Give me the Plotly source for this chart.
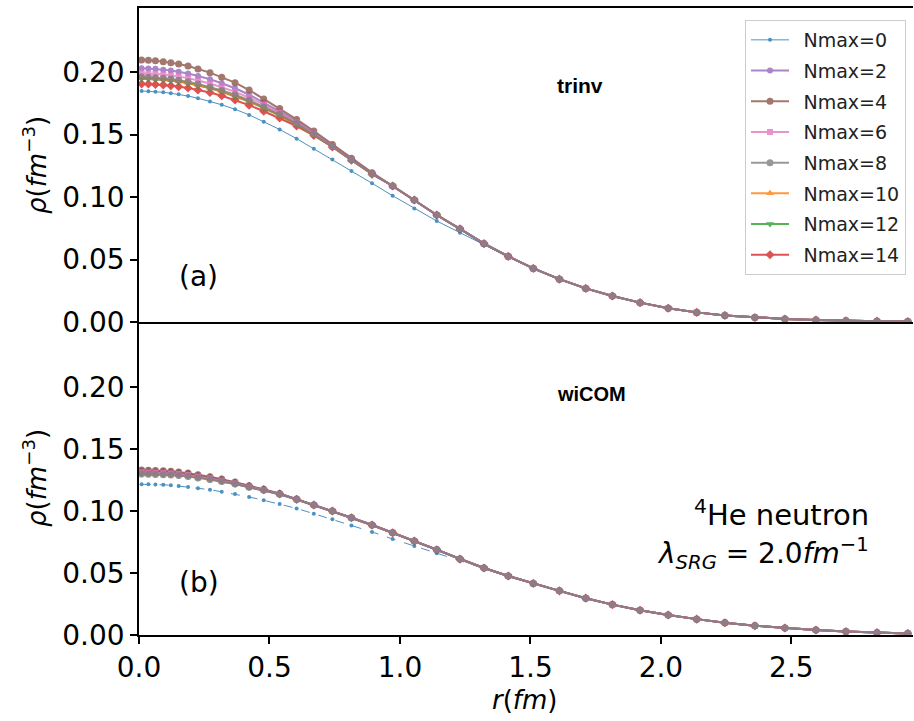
import plotly.graph_objects as go

# ---------------- data ----------------
r = [0.010, 0.036, 0.063, 0.093, 0.122, 0.152, 0.188, 0.226, 0.272, 0.317,
     0.368, 0.422, 0.478, 0.539, 0.604, 0.670, 0.741, 0.814, 0.893, 0.972,
     1.055, 1.141, 1.230, 1.322, 1.415, 1.511, 1.611, 1.712, 1.814, 1.920,
     2.028, 2.137, 2.245, 2.360, 2.475, 2.594, 2.709, 2.828, 2.946]

labels = ["Nmax=0", "Nmax=2", "Nmax=4", "Nmax=6", "Nmax=8", "Nmax=10", "Nmax=12", "Nmax=14"]

# (a) trinv
top_nmax0 = [0.1848, 0.1846, 0.1843, 0.1838, 0.1830, 0.1821, 0.1808, 0.1790, 0.1765, 0.1738,
             0.1702, 0.1657, 0.1602, 0.1540, 0.1467, 0.1387, 0.1301, 0.1208, 0.1110, 0.1010,
             0.0909, 0.0808, 0.0715, 0.0618, 0.0520, 0.0427, 0.0343, 0.0268, 0.0207, 0.0155,
             0.0111, 0.0078, 0.0054, 0.0037, 0.0025, 0.0016, 0.0010, 0.0007, 0.0004]
top_tail = [0.1088, 0.0976, 0.0856, 0.0745, 0.0627, 0.0525, 0.0429, 0.0343, 0.0269, 0.0208,
            0.0155, 0.0110, 0.0077, 0.0053, 0.0036, 0.0024, 0.0016, 0.0010, 0.0007, 0.0004]
top_head_nmax2 = [0.2030, 0.2028, 0.2025, 0.2019, 0.2012, 0.2002, 0.1988, 0.1968, 0.1942, 0.1910,
                  0.1870, 0.1818, 0.1757, 0.1686, 0.1605, 0.1515, 0.1412, 0.1303, 0.1190]
top_head_nmax4 = [0.2096, 0.2094, 0.2090, 0.2083, 0.2075, 0.2064, 0.2048, 0.2024, 0.1995, 0.1957,
                  0.1915, 0.1856, 0.1784, 0.1709, 0.1621, 0.1528, 0.1421, 0.1310, 0.1195]
top_head_nmax6 = [0.1990, 0.1988, 0.1985, 0.1980, 0.1973, 0.1964, 0.1951, 0.1932, 0.1908, 0.1878,
                  0.1841, 0.1795, 0.1740, 0.1676, 0.1598, 0.1508, 0.1407, 0.1300, 0.1188]
top_head_nmax8 = [0.1960, 0.1958, 0.1955, 0.1950, 0.1944, 0.1935, 0.1922, 0.1904, 0.1881, 0.1853,
                  0.1818, 0.1774, 0.1720, 0.1660, 0.1588, 0.1502, 0.1404, 0.1298, 0.1187]
top_head_nmax10 = [0.1952, 0.1950, 0.1947, 0.1942, 0.1936, 0.1927, 0.1914, 0.1896, 0.1874, 0.1846,
                   0.1811, 0.1768, 0.1715, 0.1655, 0.1584, 0.1500, 0.1403, 0.1297, 0.1186]
top_head_nmax12 = [0.1947, 0.1945, 0.1942, 0.1937, 0.1931, 0.1922, 0.1909, 0.1891, 0.1869, 0.1841,
                   0.1806, 0.1764, 0.1711, 0.1652, 0.1581, 0.1498, 0.1402, 0.1296, 0.1185]
top_head_nmax14 = [0.1905, 0.1904, 0.1901, 0.1897, 0.1891, 0.1883, 0.1872, 0.1856, 0.1836, 0.1810,
                   0.1776, 0.1735, 0.1686, 0.1632, 0.1568, 0.1492, 0.1400, 0.1295, 0.1183]

# (b) wiCOM
bot_nmax0 = [0.1215, 0.1215, 0.1213, 0.1211, 0.1208, 0.1202, 0.1194, 0.1183, 0.1172, 0.1156,
             0.1137, 0.1113, 0.1086, 0.1056, 0.1021, 0.0978, 0.0933, 0.0884, 0.0831, 0.0774,
             0.0718, 0.0660, 0.0600, 0.0535, 0.0474, 0.0416, 0.0356, 0.0297, 0.0245, 0.0200,
             0.0161, 0.0128, 0.0099, 0.0075, 0.0056, 0.0040, 0.0028, 0.0019, 0.0013]
bot_tail = [0.1048, 0.1000, 0.0946, 0.0887, 0.0825, 0.0758, 0.0688, 0.0612, 0.0540, 0.0476,
            0.0416, 0.0356, 0.0297, 0.0245, 0.0200, 0.0161, 0.0128, 0.0099, 0.0075, 0.0056,
            0.0040, 0.0028, 0.0019, 0.0013]
bot_head_nmax2 = [0.1322, 0.1321, 0.1319, 0.1316, 0.1313, 0.1307, 0.1299, 0.1285, 0.1271, 0.1252,
                  0.1229, 0.1201, 0.1174, 0.1139, 0.1095]
bot_head_nmax4 = [0.1330, 0.1329, 0.1327, 0.1324, 0.1320, 0.1315, 0.1306, 0.1292, 0.1277, 0.1257,
                  0.1233, 0.1204, 0.1176, 0.1141, 0.1096]
bot_head_nmax6 = [0.1312, 0.1311, 0.1309, 0.1306, 0.1303, 0.1298, 0.1290, 0.1277, 0.1263, 0.1245,
                  0.1223, 0.1196, 0.1170, 0.1137, 0.1094]
bot_head_nmax8 = [0.1298, 0.1297, 0.1295, 0.1293, 0.1290, 0.1286, 0.1279, 0.1267, 0.1254, 0.1238,
                  0.1217, 0.1191, 0.1167, 0.1135, 0.1093]
bot_head_nmax10 = [0.1302, 0.1301, 0.1299, 0.1297, 0.1294, 0.1290, 0.1283, 0.1271, 0.1257, 0.1240,
                   0.1219, 0.1193, 0.1168, 0.1136, 0.1094]
bot_head_nmax12 = [0.1300, 0.1299, 0.1297, 0.1295, 0.1292, 0.1288, 0.1281, 0.1269, 0.1256, 0.1239,
                   0.1218, 0.1192, 0.1167, 0.1135, 0.1093]
bot_head_nmax14 = [0.1318, 0.1317, 0.1315, 0.1312, 0.1309, 0.1304, 0.1296, 0.1282, 0.1268, 0.1249,
                   0.1226, 0.1199, 0.1172, 0.1138, 0.1094]

top_series = [top_nmax0,
              top_head_nmax2 + top_tail, top_head_nmax4 + top_tail, top_head_nmax6 + top_tail,
              top_head_nmax8 + top_tail, top_head_nmax10 + top_tail, top_head_nmax12 + top_tail,
              top_head_nmax14 + top_tail]
bot_series = [bot_nmax0,
              bot_head_nmax2 + bot_tail, bot_head_nmax4 + bot_tail, bot_head_nmax6 + bot_tail,
              bot_head_nmax8 + bot_tail, bot_head_nmax10 + bot_tail, bot_head_nmax12 + bot_tail,
              bot_head_nmax14 + bot_tail]

# ---------------- style ----------------
colors = ["#1f77b4", "#9467bd", "#8c564b", "#e377c2", "#7f7f7f", "#ff7f0e", "#2ca02c", "#d62728"]
symbols = ["circle", "circle", "circle", "square", "circle", "triangle-up", "triangle-down", "diamond"]
msizes = [4, 6, 7, 6, 7, 7, 7, 7]
lwidths = [1, 2, 2, 2, 2, 2, 2, 2]
draw_order = [7, 6, 5, 0, 1, 2, 3, 4]

W, H = 914, 721
ML, MR, MT, MB = 139, 1, 8, 86
PW, PH = W - ML - MR, H - MT - MB
def px(x):
    return (x - ML) / PW
def py(y):
    return (H - MB - y) / PH

split = (H - MB - 322) / PH
FONT = "DejaVu Sans"

fig = go.Figure()
for i in draw_order:
    fig.add_trace(go.Scatter(
        x=r, y=top_series[i], xaxis="x2", yaxis="y2", mode="lines+markers",
        name="\u2002" + labels[i], legendgroup=labels[i], legendrank=i + 1, opacity=0.8,
        line=dict(color=colors[i], width=lwidths[i]),
        marker=dict(color=colors[i], symbol=symbols[i], size=msizes[i], line=dict(width=0))))
for i in draw_order:
    fig.add_trace(go.Scatter(
        x=r, y=bot_series[i], xaxis="x", yaxis="y", mode="lines+markers",
        name=labels[i], legendgroup=labels[i], showlegend=False, opacity=0.8,
        line=dict(color=colors[i], width=lwidths[i], dash="dash" if i == 0 else "solid"),
        marker=dict(color=colors[i], symbol=symbols[i], size=msizes[i], line=dict(width=0))))

axcommon = dict(showline=True, linecolor="black", linewidth=1.5, showgrid=False, zeroline=False,
                ticklen=7, tickwidth=1.5, tickcolor="black",
                tickfont=dict(family=FONT, size=28, color="black"))
xt = [0, 0.5, 1.0, 1.5, 2.0, 2.5]
yt = [0, 0.05, 0.10, 0.15, 0.20]
ytl = ["0.00", "0.05", "0.10", "0.15", "0.20"]

fig.update_layout(
    width=W, height=H, margin=dict(l=ML, r=MR, t=MT, b=MB),
    paper_bgcolor="white", plot_bgcolor="white",
    font=dict(family=FONT, color="black"),
    xaxis=dict(domain=[0, 1], anchor="y", range=[0, 2.966], tickvals=xt, ticks="outside",
               ticktext=["0.0", "0.5", "1.0", "1.5", "2.0", "2.5"], mirror=False, **axcommon),
    yaxis=dict(domain=[0, split], anchor="x", range=[0, 0.2524], tickvals=yt, ticks="outside",
               ticktext=ytl, **axcommon),
    xaxis2=dict(domain=[0, 1], anchor="y2", range=[0, 2.966], matches="x", tickvals=xt,
                showticklabels=False, mirror=True, ticks="", **axcommon),
    yaxis2=dict(domain=[split, 1], anchor="x2", range=[0, 0.2512], tickvals=yt, ticks="outside",
                ticktext=ytl, **axcommon),
    legend=dict(x=px(745), y=py(20), xanchor="left", yanchor="top",
                bgcolor="white", bordercolor="#cccccc", borderwidth=1, itemwidth=38,
                font=dict(family=FONT, size=19, color="#222222"), tracegroupgap=3),
    showlegend=True,
)

ann = []
def add(text, x, y, size=28, xanchor="left", yanchor="middle", angle=0, family=FONT):
    ann.append(dict(text=text, x=px(x), y=py(y), xref="paper", yref="paper",
                    xanchor=xanchor, yanchor=yanchor, showarrow=False, textangle=angle,
                    font=dict(family=family, size=size, color="black")))

add("<i>ρ</i>(<i>fm</i><sup>−3</sup>)", 35, 165, size=26, xanchor="center", angle=-90)
add("<i>ρ</i>(<i>fm</i><sup>−3</sup>)", 35, 478, size=26, xanchor="center", angle=-90)
add("<i>r</i>(<i>fm</i>)", 525, 700, size=26, xanchor="center")
add("<b>trinv</b>", 555, 85, size=21, family="Liberation Sans")
add("<b>wiCOM</b>", 555, 394, size=20, family="Liberation Sans")
add("(a)", 177, 276)
add("(b)", 177, 582)
add("<sup>4</sup>He neutron", 871, 513, size=29, xanchor="right")
add("<i>λ<sub>SRG</sub></i> = 2.0<i>fm</i><sup>−1</sup>", 871, 553, xanchor="right")
fig.update_layout(annotations=ann)

fig.write_html("out.html")
